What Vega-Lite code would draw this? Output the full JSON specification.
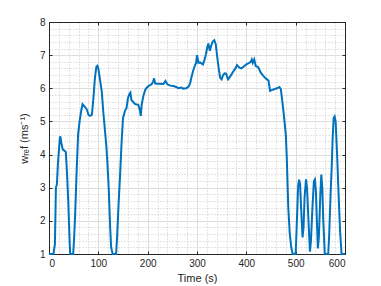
{
  "$schema": "https://vega.github.io/schema/vega-lite/v6.json",
  "width": 296,
  "height": 232,
  "autosize": "none",
  "padding": {"left": 49, "top": 22, "right": 36, "bottom": 32},
  "background": "white",
  "config": {
    "view": {"stroke": null},
    "axis": {"labelFont": "Liberation Sans", "titleFont": "Liberation Sans", "labelColor": "#262626", "titleColor": "#262626", "labelFontSize": 10, "titleFontSize": 11, "titleFontWeight": "normal", "domainColor": "#262626", "tickColor": "#262626"}
  },
  "data": {"values": [
    {"t":0,"v":1},{"t":9,"v":1},{"t":12,"v":1.3},{"t":14,"v":3.0},{"t":16,"v":3.1},{"t":18,"v":3.7},{"t":22,"v":4.5},{"t":23,"v":4.55},{"t":25,"v":4.35},{"t":28,"v":4.15},{"t":31,"v":4.12},{"t":34,"v":4.08},{"t":36,"v":3.6},{"t":39,"v":2.6},{"t":42,"v":1.3},{"t":43,"v":1},{"t":49,"v":1},{"t":51,"v":1.5},{"t":53,"v":2.2},{"t":56,"v":3.5},{"t":59,"v":4.6},{"t":62,"v":5.0},{"t":65,"v":5.3},{"t":68,"v":5.52},{"t":71,"v":5.47},{"t":74,"v":5.42},{"t":77,"v":5.35},{"t":80,"v":5.2},{"t":83,"v":5.17},{"t":87,"v":5.2},{"t":90,"v":5.7},{"t":93,"v":6.3},{"t":96,"v":6.65},{"t":98,"v":6.68},{"t":100,"v":6.6},{"t":103,"v":6.3},{"t":107,"v":5.9},{"t":110,"v":5.3},{"t":113,"v":4.8},{"t":116,"v":4.3},{"t":118,"v":3.85},{"t":121,"v":3.0},{"t":124,"v":1.8},{"t":126,"v":1.2},{"t":129,"v":1},{"t":136,"v":1},{"t":138,"v":1.5},{"t":141,"v":2.5},{"t":144,"v":3.35},{"t":147,"v":4.33},{"t":150,"v":5.1},{"t":154,"v":5.32},{"t":157,"v":5.4},{"t":160,"v":5.7},{"t":163,"v":5.83},{"t":165,"v":5.87},{"t":167,"v":5.65},{"t":171,"v":5.58},{"t":175,"v":5.52},{"t":181,"v":5.5},{"t":184,"v":5.35},{"t":186,"v":5.17},{"t":188,"v":5.52},{"t":191,"v":5.75},{"t":195,"v":5.95},{"t":198,"v":6.02},{"t":203,"v":6.08},{"t":208,"v":6.12},{"t":211,"v":6.2},{"t":213,"v":6.3},{"t":215,"v":6.15},{"t":218,"v":6.14},{"t":225,"v":6.14},{"t":232,"v":6.13},{"t":236,"v":6.22},{"t":240,"v":6.12},{"t":246,"v":6.08},{"t":252,"v":6.07},{"t":258,"v":6.04},{"t":262,"v":6.0},{"t":268,"v":6.02},{"t":272,"v":5.99},{"t":278,"v":6.0},{"t":283,"v":6.05},{"t":286,"v":6.15},{"t":289,"v":6.35},{"t":292,"v":6.52},{"t":296,"v":6.7},{"t":298,"v":6.75},{"t":300,"v":7.0},{"t":303,"v":6.77},{"t":306,"v":6.78},{"t":309,"v":6.75},{"t":312,"v":6.72},{"t":315,"v":6.85},{"t":318,"v":7.02},{"t":321,"v":7.25},{"t":323,"v":7.35},{"t":326,"v":7.13},{"t":329,"v":7.3},{"t":332,"v":7.41},{"t":335,"v":7.45},{"t":338,"v":7.33},{"t":341,"v":6.95},{"t":344,"v":6.6},{"t":347,"v":6.32},{"t":350,"v":6.27},{"t":353,"v":6.4},{"t":356,"v":6.45},{"t":359,"v":6.44},{"t":363,"v":6.27},{"t":366,"v":6.33},{"t":370,"v":6.42},{"t":374,"v":6.52},{"t":378,"v":6.6},{"t":381,"v":6.7},{"t":386,"v":6.62},{"t":390,"v":6.6},{"t":395,"v":6.66},{"t":400,"v":6.72},{"t":405,"v":6.76},{"t":409,"v":6.8},{"t":411,"v":6.87},{"t":413,"v":6.77},{"t":416,"v":6.87},{"t":419,"v":6.67},{"t":424,"v":6.64},{"t":429,"v":6.48},{"t":434,"v":6.38},{"t":439,"v":6.3},{"t":445,"v":6.23},{"t":448,"v":5.92},{"t":453,"v":5.95},{"t":458,"v":5.98},{"t":462,"v":6.0},{"t":467,"v":6.04},{"t":470,"v":5.97},{"t":473,"v":5.6},{"t":476,"v":5.2},{"t":480,"v":4.6},{"t":482,"v":3.9},{"t":485,"v":2.42},{"t":488,"v":1.62},{"t":491,"v":1.2},{"t":494,"v":1},{"t":500,"v":1},{"t":502,"v":1.8},{"t":505,"v":3.05},{"t":507,"v":3.24},{"t":509,"v":3.1},{"t":511,"v":2.4},{"t":514,"v":1.5},{"t":516,"v":1.8},{"t":518,"v":2.7},{"t":521,"v":3.25},{"t":523,"v":3.0},{"t":526,"v":2.0},{"t":529,"v":1.07},{"t":531,"v":1.4},{"t":534,"v":2.4},{"t":537,"v":3.2},{"t":539,"v":3.25},{"t":541,"v":2.9},{"t":543,"v":2.0},{"t":545,"v":1.17},{"t":547,"v":1.5},{"t":550,"v":2.8},{"t":552,"v":3.4},{"t":554,"v":3.0},{"t":556,"v":2.0},{"t":559,"v":1},{"t":566,"v":1},{"t":568,"v":1.6},{"t":571,"v":2.9},{"t":573,"v":3.6},{"t":575,"v":4.5},{"t":577,"v":5.1},{"t":579,"v":5.15},{"t":581,"v":5.0},{"t":584,"v":4.0},{"t":587,"v":2.8},{"t":590,"v":1.7},{"t":593,"v":1},{"t":600,"v":1}
  ]},
  "resolve": {"axis": {"x": "independent", "y": "independent"}},
  "layer": [
    {
      "mark": {"type": "line", "opacity": 0},
      "encoding": {
        "x": {"field": "t", "type": "quantitative", "scale": {"domain": [0, 600], "nice": false},
          "axis": {"orient": "bottom", "values": [20,40,60,80,120,140,160,180,220,240,260,280,320,340,360,380,420,440,460,480,520,540,560,580], "grid": true, "gridDash": [1, 2], "gridColor": "#c8c8c8", "domain": false, "ticks": false, "labels": false, "title": null}},
        "y": {"field": "v", "type": "quantitative", "scale": {"domain": [1, 8], "nice": false},
          "axis": {"orient": "left", "values": [1.2,1.4,1.6,1.8,2.2,2.4,2.6,2.8,3.2,3.4,3.6,3.8,4.2,4.4,4.6,4.8,5.2,5.4,5.6,5.8,6.2,6.4,6.6,6.8,7.2,7.4,7.6,7.8], "grid": true, "gridDash": [1, 2], "gridColor": "#c8c8c8", "domain": false, "ticks": false, "labels": false, "title": null}}
      }
    },
    {
      "mark": {"type": "line", "opacity": 0},
      "encoding": {
        "x": {"field": "t", "type": "quantitative", "scale": {"domain": [0, 600], "nice": false},
          "axis": {"orient": "top", "values": [0,100,200,300,400,500,600], "grid": true, "gridColor": "#dedede", "tickSize": -3, "labels": false, "title": null}},
        "y": {"field": "v", "type": "quantitative", "scale": {"domain": [1, 8], "nice": false},
          "axis": {"orient": "right", "values": [1,2,3,4,5,6,7,8], "grid": true, "gridColor": "#dedede", "tickSize": -3, "labels": false, "title": null}}
      }
    },
    {
      "mark": {"type": "line", "color": "#0072BD", "strokeWidth": 2},
      "encoding": {
        "x": {"field": "t", "type": "quantitative", "scale": {"domain": [0, 600], "nice": false},
          "axis": {"orient": "bottom", "values": [0,100,200,300,400,500,600], "grid": false, "tickSize": -3, "labelPadding": 7, "title": "Time (s)", "titlePadding": 4}},
        "y": {"field": "v", "type": "quantitative", "scale": {"domain": [1, 8], "nice": false},
          "axis": {"orient": "left", "values": [1,2,3,4,5,6,7,8], "grid": false, "tickSize": -3, "labelPadding": 7, "title": "wᵣₑf (ms⁻¹)", "titlePadding": 10}}
      }
    }
  ]
}
